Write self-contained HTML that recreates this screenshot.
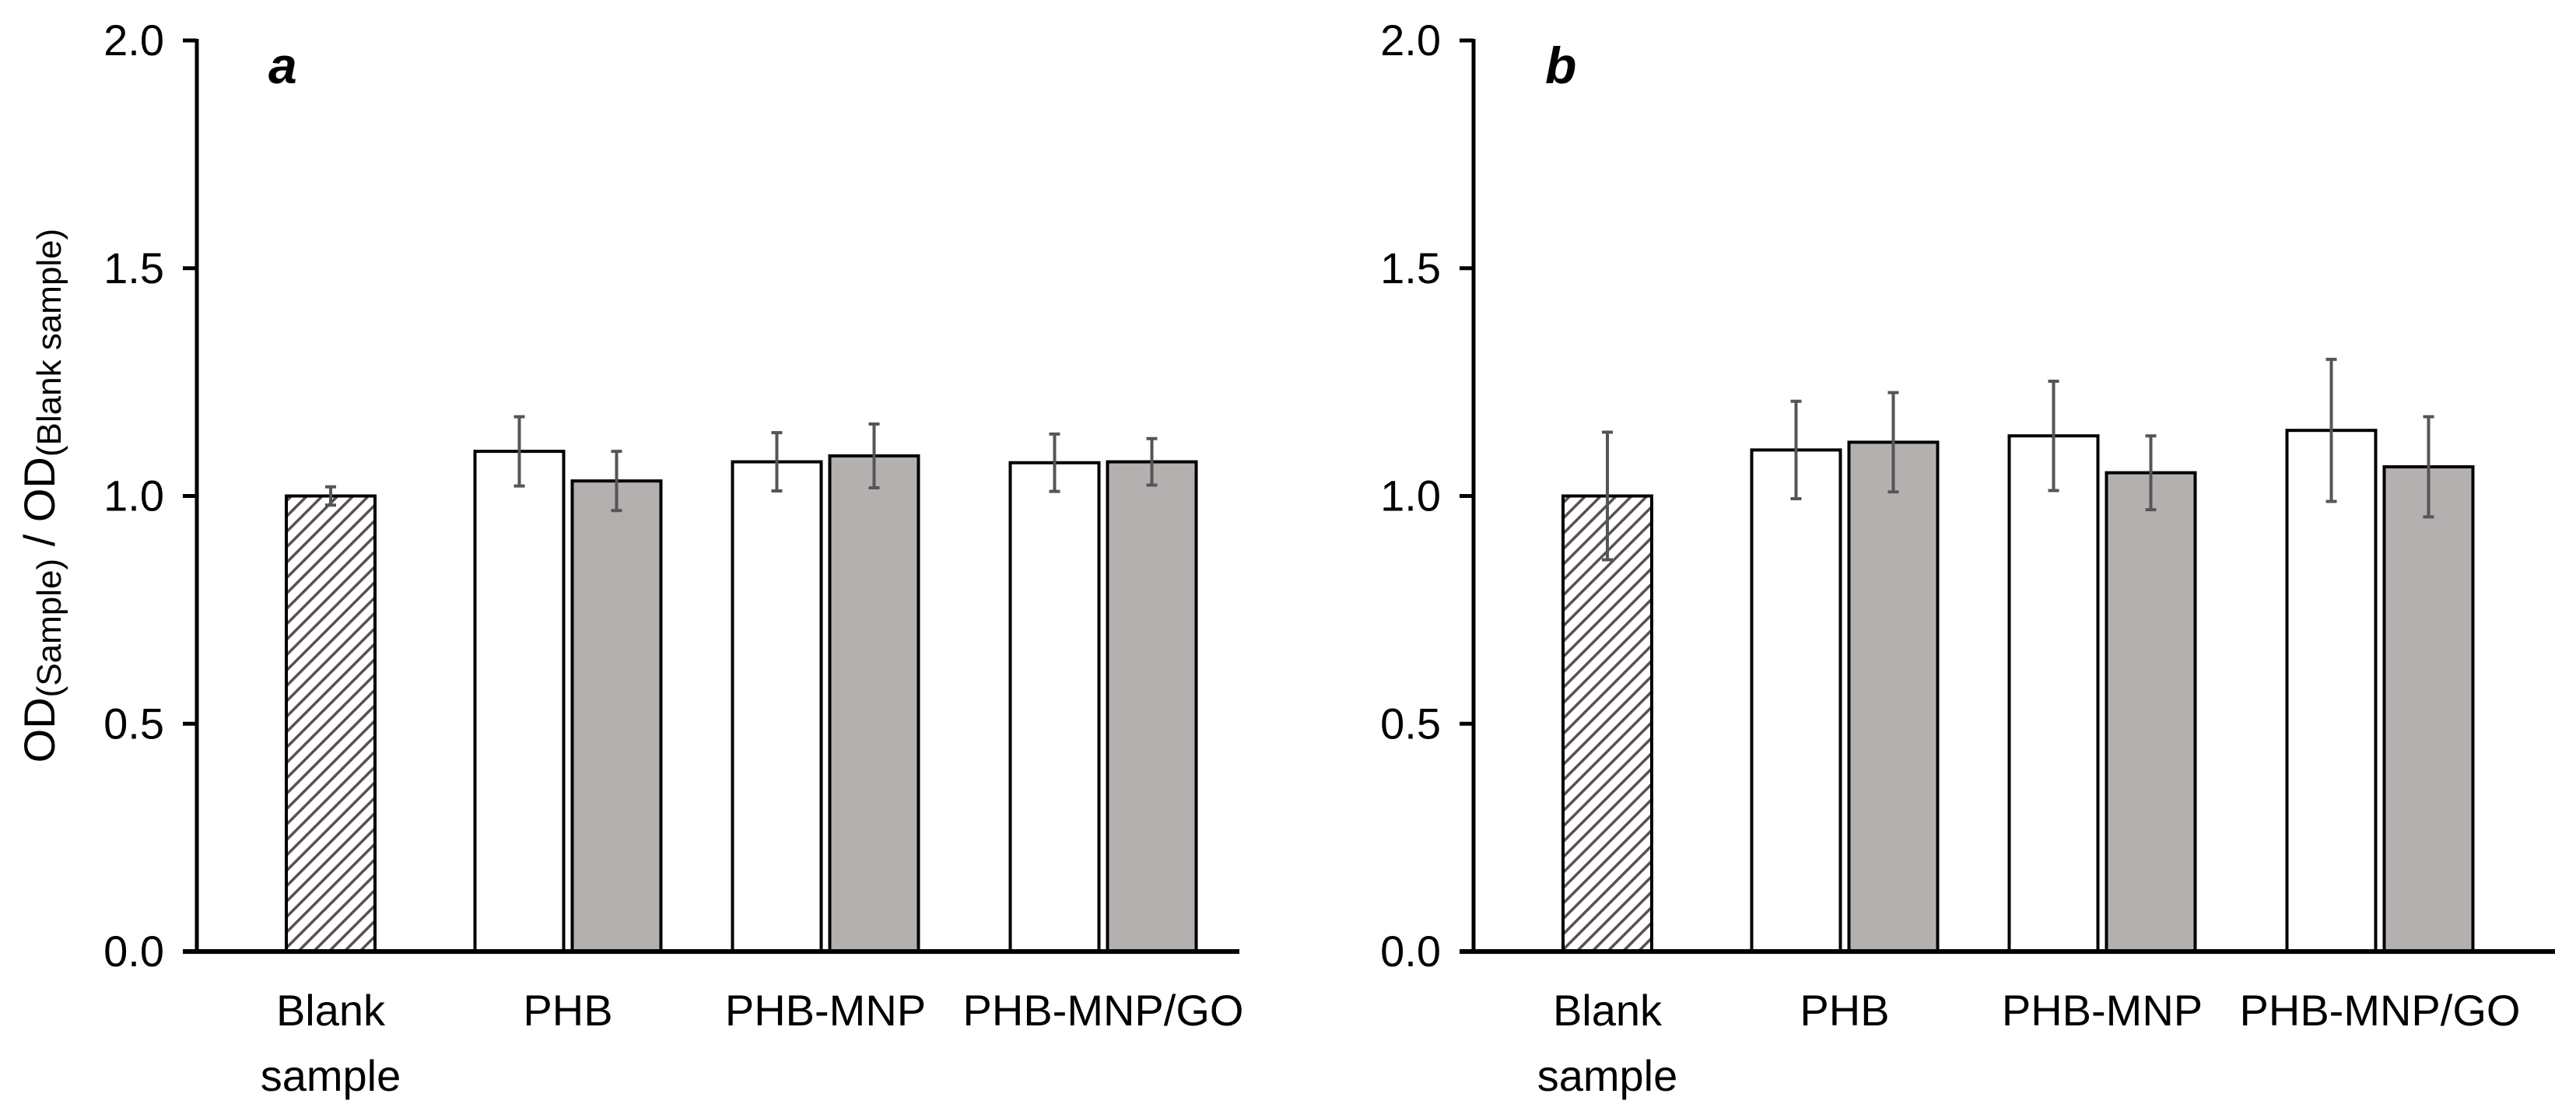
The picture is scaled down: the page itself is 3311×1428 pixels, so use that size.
<!DOCTYPE html>
<html><head><meta charset="utf-8">
<style>
html,body{margin:0;padding:0;background:#fff;}
svg{display:block;}
text{font-family:"Liberation Sans Narrow","Liberation Sans",sans-serif;fill:#000;}
</style></head>
<body>
<svg id="chart" width="3311" height="1428" viewBox="0 0 3311 1428" xmlns="http://www.w3.org/2000/svg">
<defs>
<pattern id="hatch" patternUnits="userSpaceOnUse" width="14" height="14" patternTransform="rotate(45)">
<rect width="14" height="14" fill="#fff"/>
<line x1="0" y1="0" x2="0" y2="14" stroke="#5a5050" stroke-width="7"/>
</pattern>
</defs>
</svg>
<script>
const categories = ["Blank\nsample", "PHB", "PHB-MNP", "PHB-MNP/GO"];
const yTicks = [0.0, 0.5, 1.0, 1.5, 2.0];
const yTickLabels = ["0.0", "0.5", "1.0", "1.5", "2.0"];
const panelNames = ["a", "b"];
// panel a
const aBlank = 1.00, aBlankErr = 0.02;
const aWhite = [null, 1.098, 1.075, 1.073];
const aWhiteErr = [null, 0.076, 0.064, 0.063];
const aGray = [null, 1.033, 1.088, 1.075];
const aGrayErr = [null, 0.065, 0.070, 0.051];
// panel b
const bBlank = 1.00, bBlankErr = 0.14;
const bWhite = [null, 1.101, 1.132, 1.144];
const bWhiteErr = [null, 0.107, 0.120, 0.156];
const bGray = [null, 1.118, 1.051, 1.064];
const bGrayErr = [null, 0.109, 0.081, 0.110];

const svg = document.getElementById('chart');
const NS = 'http://www.w3.org/2000/svg';
function mk(tag, attrs, parent){
  const e = document.createElementNS(NS, tag);
  for (const k in attrs) e.setAttribute(k, attrs[k]);
  (parent||svg).appendChild(e);
  return e;
}
const yTop = 52, yBase = 1223;
function yScale(v){ return yBase - (yBase - yTop) * v / 2.0; }
const barW = 114, barGap = 11;
function xCenter(axisX, i){ return axisX + 172 + 292*i + 13*i*i; }

function drawPanel(axisX, plotW, name, blank, blankErr, white, whiteErr, gray, grayErr){
  const g = mk('g', {});
  
  
  yTicks.forEach((t, k) => {
    const y = yScale(t);
    const tk = mk('line', {x1: axisX-18, x2: axisX, y1: y, y2: y, stroke: '#000', 'stroke-width': 5}, g);
    
    
    const tl = mk('text', {x: axisX-42, y: y+19, 'text-anchor': 'end', 'font-size': 56}, g);
    tl.textContent = yTickLabels[k];
    
    
  });
  function bar(x, v, err, fill, label){
    const y = yScale(v);
    const r = mk('rect', {x: x, y: y, width: barW, height: yBase - y, fill: fill, stroke: '#000', 'stroke-width': 4}, g);
    
    
    const ex = x + barW/2, y1 = yScale(v+err), y2 = yScale(v-err);
    const eb = mk('path', {d: `M${ex},${y1}V${y2}M${ex-7},${y1}H${ex+7}M${ex-7},${y2}H${ex+7}`, stroke: '#555', 'stroke-width': 4, fill: 'none'}, g);
    
    
  }
  categories.forEach((c, i) => {
    const cx = xCenter(axisX, i);
    if (i === 0) {
      bar(cx - barW/2, blank, blankErr, 'url(#hatch)', 'bar-blank-sample');
    } else {
      bar(cx - barGap/2 - barW, white[i], whiteErr[i], '#fff', 'bar-white-' + i);
      bar(cx + barGap/2, gray[i], grayErr[i], '#b5b0b0', 'bar-gray-' + i);
    }
    const lines = c.split('\n');
    lines.forEach((ln, j) => {
      const t = mk('text', {x: cx, y: 1318 + j*84, 'text-anchor': 'middle', 'font-size': 56}, g);
      t.textContent = ln;
      
      
    });
  });
  const ya = mk('line', {x1: axisX, x2: axisX, y1: yTop-2, y2: yBase+2, stroke: '#000', 'stroke-width': 5}, g);
  
  
  const xa = mk('line', {x1: axisX-18, x2: axisX+plotW, y1: yBase, y2: yBase, stroke: '#000', 'stroke-width': 6}, g);
  
  
  const pl = mk('text', {x: axisX+92, y: 107, 'font-size': 66, 'font-weight': 'bold', 'font-style': 'italic', style: 'font-family:"Liberation Sans",sans-serif'}, g);
  pl.textContent = name;
  
  
}
drawPanel(253, 1340, panelNames[0], aBlank, aBlankErr, aWhite, aWhiteErr, aGray, aGrayErr);
drawPanel(1894, 1390, panelNames[1], bBlank, bBlankErr, bWhite, bWhiteErr, bGray, bGrayErr);
</script>
<svg style="position:absolute;left:0;top:0" width="120" height="1428">
<text transform="translate(70,637) rotate(-90)" text-anchor="middle" font-size="56" style="font-family:'Liberation Sans Narrow','Liberation Sans',sans-serif">OD<tspan font-size="44" dy="8">(Sample)</tspan><tspan dy="-8"> / OD</tspan><tspan font-size="44" dy="8">(Blank sample)</tspan></text>
</svg>
</body></html>
